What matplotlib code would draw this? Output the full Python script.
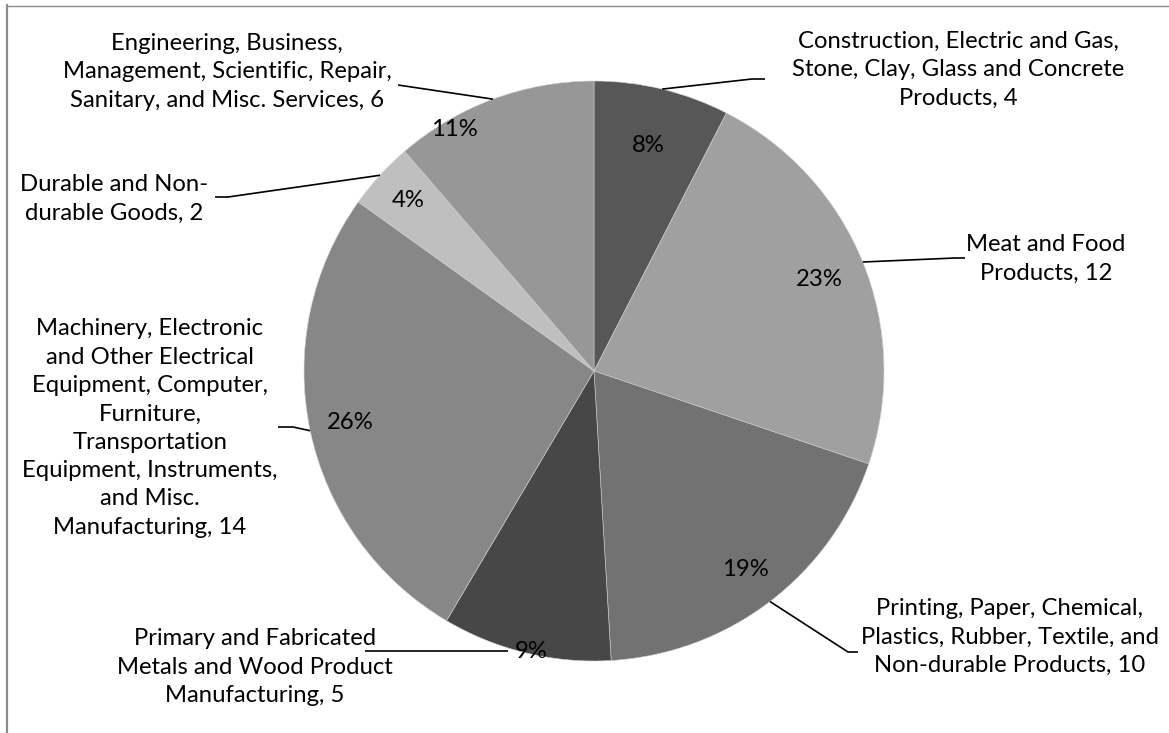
import numpy as np
import matplotlib
matplotlib.use('Agg')
import matplotlib.pyplot as plt

W, H = 1169, 733

categories = [
    "Construction, Electric and Gas,\nStone, Clay, Glass and Concrete\nProducts",
    "Meat and Food\nProducts",
    "Printing, Paper, Chemical,\nPlastics, Rubber, Textile, and\nNon-durable Products",
    "Primary and Fabricated\nMetals and Wood Product\nManufacturing",
    "Machinery, Electronic\nand Other Electrical\nEquipment, Computer,\nFurniture,\nTransportation\n"
    "Equipment, Instruments,\nand Misc.\nManufacturing",
    "Durable and Non-\ndurable Goods",
    "Engineering, Business,\nManagement, Scientific, Repair,\nSanitary, and Misc. Services",
]
counts = [4, 12, 10, 5, 14, 2, 6]
colors = ['#575757', '#a0a0a0', '#727272', '#474747', '#878787', '#bfbfbf', '#979797']

plt.rcParams['font.family'] = ['Lato', 'DejaVu Sans']
FS = 17.2

fig = plt.figure(figsize=(W / 100, H / 100), dpi=100)
ax = fig.add_axes([0, 0, 1, 1])

# pie laid out in pixel units so labels can be placed by eye
cx, cy, r = 594, H - 371, 290
wedges, _, pcts = ax.pie(counts, colors=colors, startangle=90, counterclock=False,
                         center=(cx, cy), radius=r,
                         autopct='%.0f%%', pctdistance=0.85,
                         wedgeprops=dict(edgecolor='#d0d0d0', linewidth=0.4),
                         textprops=dict(fontsize=FS, color='black'))
ax.set_xlim(0, W)
ax.set_ylim(0, H)
ax.set_aspect('auto')
ax.axis('off')

# nudge the percentage labels the way the spreadsheet placed them
pct_dist = [0.80, 0.84, 0.86, 0.99, 0.86, 0.87, 0.96]
pct_turn = [0, 0, 0, 1.0, 0, 0, 9.6]
for w, t, d, turn in zip(wedges, pcts, pct_dist, pct_turn):
    a = np.radians((w.theta1 + w.theta2) / 2 + turn)
    t.set_position((cx + r * d * np.cos(a), cy + r * d * np.sin(a)))

# category labels with leader lines; None = start on the wedge rim
label_xy = [(958, 70), (1046, 259), (1010, 637), (255, 667), (150, 428), (114, 199), (227, 72)]
leader_pts = [
    [None, (752, 79), (765, 79)],
    [None, (955, 258), (965, 258)],
    [None, (848, 652), (858, 652)],
    [(508, 651), (365, 651)],
    [None, (293, 427), (278, 427)],
    [None, (228, 197), (215, 197)],
    [None, (398, 85)],
]
for w, name, n, (lx, ly), pts in zip(wedges, categories, counts, label_xy, leader_pts):
    a = np.radians((w.theta1 + w.theta2) / 2)
    rim = (cx + r * np.cos(a), cy + r * np.sin(a))
    xs, ys = [], []
    for p in pts:
        if p is None:
            xs.append(rim[0]); ys.append(rim[1])
        else:
            xs.append(p[0]); ys.append(H - p[1])
    ax.plot(xs, ys, color='black', lw=1.2, solid_capstyle='butt')
    ax.text(lx, H - ly, f"{name}, {n}", ha='center', va='center',
            fontsize=FS, linespacing=1.43)

# chart area border (top and left edges show)
fig.add_artist(plt.Line2D([6.5 / W, 1], [1 - 5.5 / H, 1 - 5.5 / H], color='#8c8c8c', lw=1))
fig.add_artist(plt.Line2D([7 / W, 7 / W], [0, 1 - 5 / H], color='#8c8c8c', lw=1.6))

fig.savefig('out.png', dpi=100)
